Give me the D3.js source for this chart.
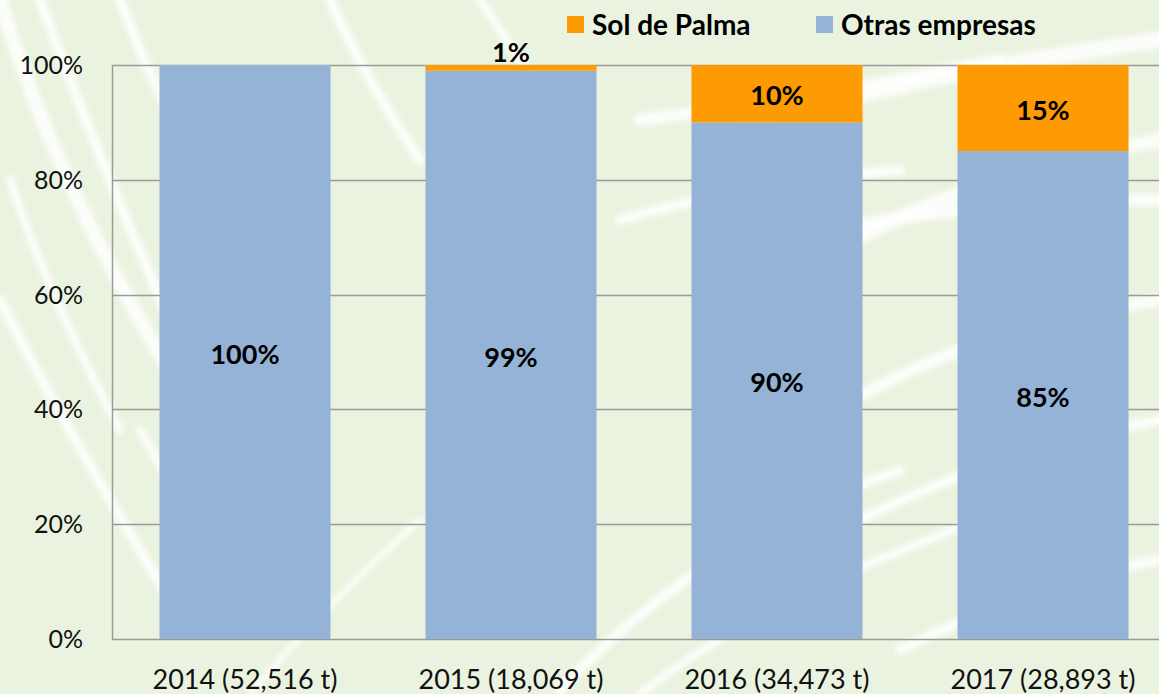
<!DOCTYPE html>
<html>
<head>
<meta charset="utf-8">
<script src="https://cdn.jsdelivr.net/npm/d3@7"></script>
<style>
  body { margin: 0; background: #ffffff; }
  svg text { font-family: Lato, "Liberation Sans", sans-serif; }
</style>
</head>
<body>
<svg id="chart" width="1159" height="694"></svg>
<script>
const years = ["2014 (52,516 t)", "2015 (18,069 t)", "2016 (34,473 t)", "2017 (28,893 t)"];
const otras = [100, 99, 90, 85];
const solDePalma = [0, 1, 10, 15];
const yTicks = [0, 20, 40, 60, 80, 100];
const seriesNames = ["Sol de Palma", "Otras empresas"];
const colors = { "Otras empresas": "#95b3d7", "Sol de Palma": "#fe9a02" };

const svg = d3.select("#chart");
const width = 1159, height = 694;
const margin = { left: 112, top: 65, bottom: 55 };

// pale palm-leaf background
const defs = svg.append("defs");
defs.append("filter").attr("id", "soft")
  .append("feGaussianBlur").attr("stdDeviation", 2.5);
svg.append("rect").attr("width", width).attr("height", height).attr("fill", "#eaf3df");
const streaks = [
  [0, 0, 60, 200, 200, 420, 14], [40, 0, 120, 220, 260, 520, 10], [120, 0, 180, 160, 300, 330, 10],
  [330, 0, 360, 70, 420, 160, 10], [480, 0, 520, 60, 560, 120, 8], [0, 300, 60, 420, 170, 600, 10],
  [140, 430, 190, 520, 240, 600, 8], [560, 690, 700, 540, 900, 470, 10], [640, 694, 760, 600, 980, 520, 8],
  [760, 300, 900, 190, 1159, 140, 14], [820, 420, 960, 330, 1159, 300, 12], [860, 520, 1000, 450, 1159, 420, 10],
  [700, 140, 880, 80, 1159, 40, 16], [900, 650, 1040, 580, 1159, 560, 10], [250, 694, 330, 600, 420, 520, 6],
  [780, 240, 960, 200, 1159, 200, 12], [640, 120, 800, 100, 1000, 60, 12], [620, 220, 760, 180, 900, 170, 10],
  [10, 180, 50, 300, 120, 430, 8], [200, 120, 230, 200, 290, 290, 6]
];
svg.append("g")
  .attr("filter", "url(#soft)")
  .selectAll("path")
  .data(streaks)
  .join("path")
  .attr("d", d => `M${d[0]},${d[1]} Q${d[2]},${d[3]} ${d[4]},${d[5]}`)
  .attr("fill", "none")
  .attr("stroke", "#ffffff")
  .attr("stroke-opacity", 0.85)
  .attr("stroke-linecap", "round")
  .attr("stroke-width", d => d[6]);

const x = d3.scaleBand().domain(years).range([margin.left, margin.left + 4 * 266]).paddingInner(0.357).paddingOuter(0.1785);
const y = d3.scaleLinear().domain([0, 100]).range([height - margin.bottom, margin.top]);

// gridlines
svg.append("g")
  .selectAll("line")
  .data(yTicks)
  .join("line")
  .attr("x1", margin.left)
  .attr("x2", width)
  .attr("y1", d => Math.round(y(d)) + 0.5)
  .attr("y2", d => Math.round(y(d)) + 0.5)
  .attr("stroke", "#9a9a9a")
  .attr("stroke-width", 1.5);

svg.append("line")
  .attr("x1", margin.left + 0.5).attr("x2", margin.left + 0.5)
  .attr("y1", y(100)).attr("y2", y(0))
  .attr("stroke", "#9a9a9a").attr("stroke-width", 1.5);

// y labels
svg.append("g")
  .selectAll("text")
  .data(yTicks)
  .join("text")
  .attr("x", 83)
  .attr("y", d => y(d))
  .attr("dy", "0.36em")
  .attr("text-anchor", "end")
  .attr("font-size", 25)
  .attr("fill", "#111")
  .text(d => d + "%");

const rows = years.map((yr, i) => ({ year: yr, "Otras empresas": otras[i], "Sol de Palma": solDePalma[i] }));
const stacked = d3.stack().keys(["Otras empresas", "Sol de Palma"])(rows);

svg.append("g")
  .selectAll("g")
  .data(stacked)
  .join("g")
  .attr("fill", s => colors[s.key])
  .selectAll("rect")
  .data(s => s)
  .join("rect")
  .attr("x", d => x(d.data.year))
  .attr("width", x.bandwidth())
  .attr("y", d => y(d[1]))
  .attr("height", d => y(d[0]) - y(d[1]));

// data labels
stacked.forEach(s => {
  svg.append("g")
    .selectAll("text")
    .data(s.filter(d => d[1] - d[0] > 0))
    .join("text")
    .attr("x", d => x(d.data.year) + x.bandwidth() / 2)
    .attr("y", d => (d[1] - d[0]) < 3 ? y(d[1]) - 13 : y((d[0] + d[1]) / 2) + 2)
    .attr("dy", "0.36em")
    .attr("text-anchor", "middle")
    .attr("font-size", 27)
    .attr("font-weight", "bold")
    .attr("fill", "#000")
    .text(d => Math.round(d[1] - d[0]) + "%");
});

// x labels
svg.append("g")
  .selectAll("text")
  .data(years)
  .join("text")
  .attr("x", d => x(d) + x.bandwidth() / 2)
  .attr("y", 679)
  .attr("dy", "0.36em")
  .attr("text-anchor", "middle")
  .attr("font-size", 27)
  .attr("fill", "#111")
  .text(d => d);

// legend
const legendX = [567, 816];
const legend = svg.append("g")
  .selectAll("g")
  .data(seriesNames)
  .join("g")
  .attr("transform", (d, i) => `translate(${legendX[i]},16)`);
legend.append("rect").attr("width", 17).attr("height", 17).attr("fill", d => colors[d]);
legend.append("text")
  .attr("x", 25).attr("y", 9).attr("dy", "0.36em")
  .attr("font-size", 28).attr("font-weight", "bold").attr("fill", "#000")
  .text(d => d);
</script>
</body>
</html>
